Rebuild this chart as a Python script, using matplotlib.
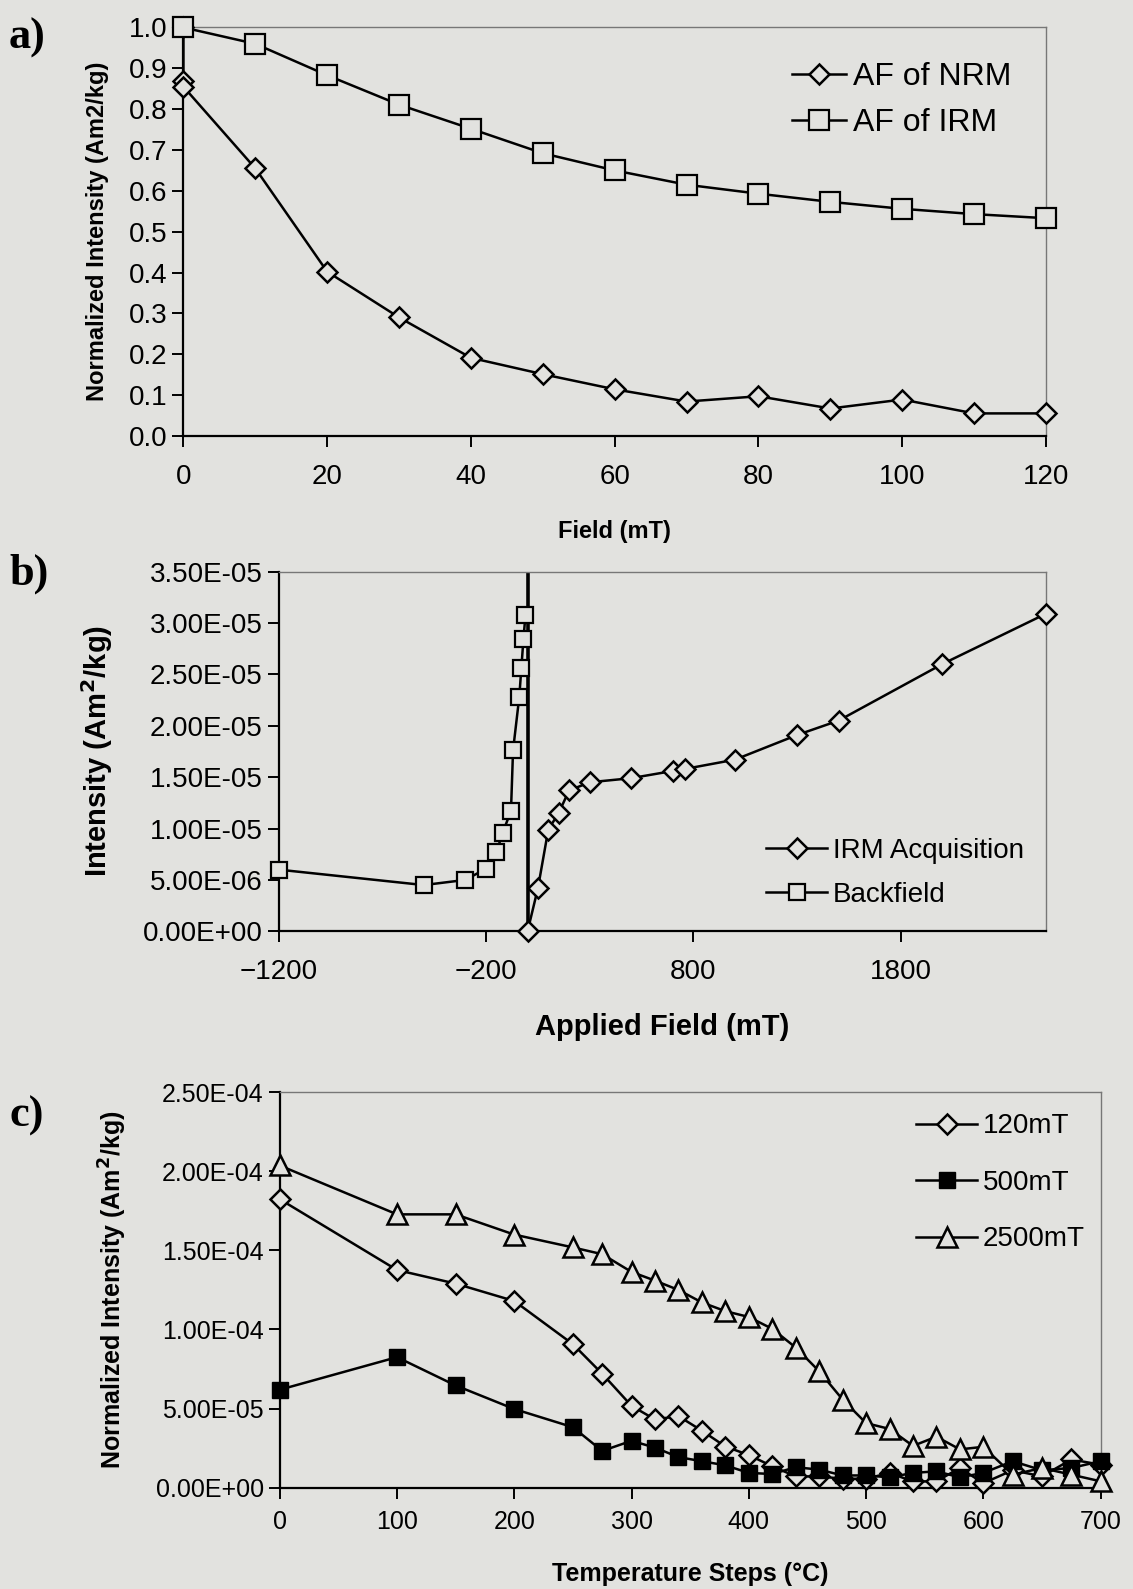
import numpy as np
import matplotlib
matplotlib.use("Agg")
import matplotlib.pyplot as plt
from matplotlib.ticker import FormatStrFormatter

plt.rcParams['font.family'] = ['Liberation Sans', 'DejaVu Sans']

# ---- panel a: AF demagnetisation ----
af_field_nrm = [0, 0, 0, 10, 20, 30, 40, 50, 60, 70, 80, 90, 100, 110, 120]
af_nrm = [1.0, 0.87, 0.855, 0.655, 0.402, 0.29, 0.191, 0.151, 0.114, 0.084, 0.097, 0.067, 0.089, 0.055, 0.055]
af_field_irm = [0, 10, 20, 30, 40, 50, 60, 70, 80, 90, 100, 110, 120]
af_irm = [1.0, 0.96, 0.883, 0.811, 0.752, 0.692, 0.65, 0.615, 0.593, 0.573, 0.556, 0.543, 0.533]

# ---- panel b: IRM acquisition and backfield ----
irm_field = [0, 50, 100, 150, 200, 300, 500, 700, 760, 1000, 1300, 1500, 2000, 2500]
irm_int = [0.0, 0.42e-5, 0.99e-5, 1.15e-5, 1.37e-5, 1.45e-5, 1.49e-5, 1.56e-5, 1.58e-5,
           1.67e-5, 1.91e-5, 2.05e-5, 2.60e-5, 3.09e-5]
back_field = [-10, -20, -30, -40, -70, -80, -120, -150, -200, -300, -500, -1200]
back_int = [3.08e-5, 2.84e-5, 2.56e-5, 2.28e-5, 1.76e-5, 1.17e-5, 0.96e-5, 0.77e-5,
            0.61e-5, 0.50e-5, 0.45e-5, 0.60e-5]

# ---- panel c: thermal demagnetisation of 3-axis IRM ----
temps = [0, 100, 150, 200, 250, 275, 300, 320, 340, 360, 380, 400, 420, 440, 460, 480,
         500, 520, 540, 560, 580, 600, 625, 650, 675, 700]
c120 = [1.824, 1.376, 1.29, 1.18, 0.907, 0.72, 0.517, 0.431, 0.452, 0.36, 0.26, 0.206, 0.135,
        0.071, 0.071, 0.056, 0.056, 0.093, 0.039, 0.04, 0.124, 0.028, 0.11, 0.071, 0.178, 0.145]
c500 = [0.619, 0.825, 0.646, 0.497, 0.382, 0.232, 0.296, 0.253, 0.193, 0.167, 0.141, 0.093,
        0.086, 0.129, 0.114, 0.077, 0.077, 0.065, 0.093, 0.103, 0.065, 0.093, 0.167, 0.11, 0.124, 0.167]
c2500 = [2.037, 1.728, 1.728, 1.60, 1.519, 1.476, 1.364, 1.309, 1.25, 1.171, 1.116, 1.079, 1.004,
         0.886, 0.736, 0.557, 0.408, 0.371, 0.264, 0.322, 0.242, 0.258, 0.082, 0.124, 0.082, 0.04]
c120 = [v * 1e-4 for v in c120]
c500 = [v * 1e-4 for v in c500]
c2500 = [v * 1e-4 for v in c2500]

paper = '#e2e2df'
fig = plt.figure(figsize=(11.33, 15.89), dpi=100, facecolor=paper)


def style_axes(ax, size=20, pad=12):
    ax.set_facecolor(paper)
    for s in ['top', 'right']:
        ax.spines[s].set_color('#777777')
        ax.spines[s].set_linewidth(1.0)
    for s in ['left', 'bottom']:
        ax.spines[s].set_color('black')
        ax.spines[s].set_linewidth(1.6)
    ax.tick_params(direction='out', length=8, width=1.4, labelsize=size, colors='black')
    ax.tick_params(axis='x', pad=pad)


lw = 1.8

# a)
ax1 = fig.add_axes([0.1619, 0.7257, 0.7613, 0.2570])
style_axes(ax1)
ax1.plot(af_field_nrm, af_nrm, '-', color='black', lw=lw, marker='D', ms=10,
         mfc=paper, mec='black', mew=1.8, label='AF of NRM', clip_on=False, zorder=3)
ax1.plot(af_field_irm, af_irm, '-', color='black', lw=lw, marker='s', ms=14,
         mfc=paper, mec='black', mew=1.6, label='AF of IRM', clip_on=False, zorder=3)
ax1.set_xlim(0, 120)
ax1.set_ylim(0, 1.0)
ax1.set_xticks(np.arange(0, 121, 20))
ax1.set_yticks(np.arange(0, 1.01, 0.1))
ax1.yaxis.set_major_formatter(FormatStrFormatter('%.1f'))
ax1.set_xlabel('Field (mT)', fontsize=17, fontweight='bold', labelpad=22)
ax1.set_ylabel('Normalized Intensity (Am2/kg)', fontsize=17, fontweight='bold', labelpad=14)
ax1.legend(loc='upper left', bbox_to_anchor=(0.672, 0.985), frameon=False, fontsize=23,
           handlelength=1.7, handletextpad=0.2, labelspacing=0.5)

# b)
ax2 = fig.add_axes([0.2460, 0.4139, 0.6772, 0.2264])
style_axes(ax2)
ax2.axvline(0, color='black', lw=2.6, zorder=1)
ax2.plot(irm_field, irm_int, '-', color='black', lw=lw, marker='D', ms=10,
         mfc=paper, mec='black', mew=1.8, label='IRM Acquisition', clip_on=False, zorder=3)
ax2.plot(back_field, back_int, '-', color='black', lw=lw, marker='s', ms=12,
         mfc=paper, mec='black', mew=1.6, label='Backfield', clip_on=False, zorder=3)
ax2.set_xlim(-1200, 2500)
ax2.set_ylim(0, 3.5e-5)
ax2.set_xticks([-1200, -200, 800, 1800])
ax2.set_yticks(np.arange(0, 3.51e-5, 0.5e-5))
ax2.yaxis.set_major_formatter(FormatStrFormatter('%.2E'))
ax2.set_xlabel('Applied Field (mT)', fontsize=21, fontweight='bold', labelpad=20)
ax2.set_ylabel('Intensity (Am$^\\mathbf{2}$/kg)', fontsize=21, fontweight='bold', labelpad=20)
ax2.legend(loc='upper left', bbox_to_anchor=(0.603, 0.33), frameon=False, fontsize=20,
           handlelength=2.2, handletextpad=0.2, labelspacing=0.65)

# c)
ax3 = fig.add_axes([0.2469, 0.0638, 0.7245, 0.2488])
style_axes(ax3, size=18, pad=8)
ax3.plot(temps, c120, '-', color='black', lw=lw, marker='D', ms=10,
         mfc=paper, mec='black', mew=1.8, label='120mT', clip_on=False, zorder=3)
ax3.plot(temps, c500, '-', color='black', lw=lw, marker='s', ms=12,
         mfc='black', mec='black', label='500mT', clip_on=False, zorder=3)
ax3.plot(temps, c2500, '-', color='black', lw=lw, marker='^', ms=15,
         mfc=paper, mec='black', mew=1.8, label='2500mT', clip_on=False, zorder=3)
ax3.set_xlim(0, 700)
ax3.set_ylim(0, 2.5e-4)
ax3.set_xticks(np.arange(0, 701, 100))
ax3.set_yticks(np.arange(0, 2.51e-4, 0.5e-4))
ax3.yaxis.set_major_formatter(FormatStrFormatter('%.2E'))
ax3.set_xlabel('Temperature Steps (°C)', fontsize=18, fontweight='bold', labelpad=20)
ax3.set_ylabel('Normalized Intensity (Am$^\\mathbf{2}$/kg)', fontsize=18, fontweight='bold', labelpad=19)
ax3.legend(loc='upper left', bbox_to_anchor=(0.745, 1.01), frameon=False, fontsize=20,
           handlelength=2.2, handletextpad=0.2, labelspacing=1.1)

# panel letters
for txt, y in [('a)', 0.976), ('b)', 0.639), ('c)', 0.298)]:
    fig.text(0.008, y, txt, fontsize=32, fontweight='bold',
             family=['Liberation Serif', 'DejaVu Serif'], va='center', ha='left')

fig.savefig('out.png', dpi=100, facecolor=paper)
